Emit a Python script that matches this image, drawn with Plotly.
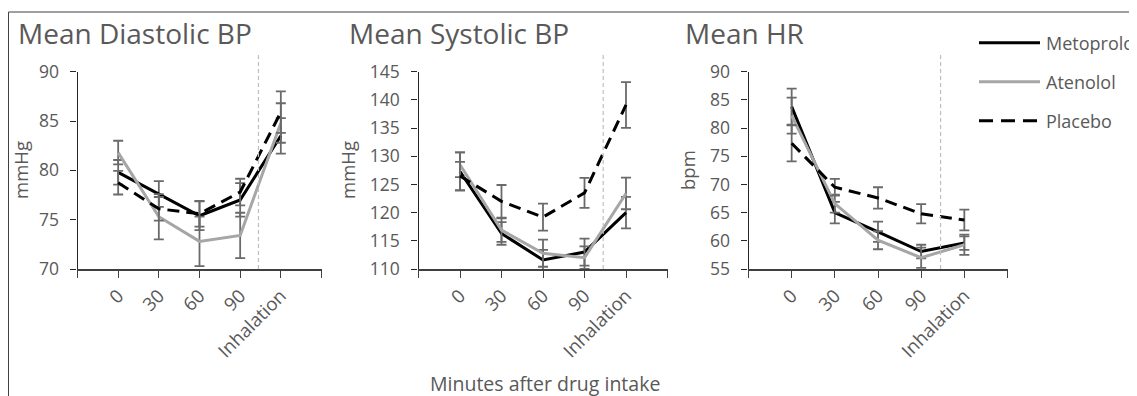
import plotly.graph_objects as go

# The page body adds an 8px margin; the figure is sized so that it fills the 1137x396 window.
PAGE_W, PAGE_H, BODY = 1137, 396, 8
W, H = PAGE_W - BODY, PAGE_H - BODY

categories = ["0", "30", "60", "90", "Inhalation"]
series_names = ["Metoprolol", "Atenolol", "Placebo"]

# Mean Diastolic BP (mmHg)
dia_met = [79.8, 77.6, 75.4, 77.0, 83.5]
dia_met_err = [1.25, 1.3, 1.45, 1.7, 1.8]
dia_ate = [81.8, 75.3, 72.8, 73.4, 84.8]
dia_ate_err = [1.2, 2.3, 2.5, 2.3, 2.0]
dia_pla = [78.75, 76.1, 75.6, 77.8, 85.9]
dia_pla_err = [1.2, 1.2, 1.3, 1.35, 2.1]

# Mean Systolic BP (mmHg)
sys_met = [127.3, 116.3, 111.6, 113.0, 120.0]
sys_met_err = [3.4, 2.0, 1.8, 2.4, 2.8]
sys_ate = [128.5, 116.9, 112.8, 112.0, 123.4]
sys_ate_err = [2.2, 2.1, 2.4, 2.0, 2.8]
sys_pla = [126.5, 122.0, 119.2, 123.5, 139.1]
sys_pla_err = [2.5, 2.9, 2.4, 2.65, 4.05]

# Mean HR (bpm)
hr_met = [83.8, 65.0, 61.6, 58.1, 59.6]
hr_met_err = [3.2, 1.9, 1.8, 1.2, 1.2]
hr_ate = [82.2, 66.6, 60.1, 57.0, 59.3]
hr_ate_err = [3.2, 1.6, 1.6, 1.8, 1.8]
hr_pla = [77.3, 69.5, 67.6, 64.8, 63.7]
hr_pla_err = [3.2, 1.5, 1.9, 1.7, 1.85]

panel_titles = ["Mean Diastolic BP", "Mean Systolic BP", "Mean HR"]
y_titles = ["mmHg", "mmHg", "bpm"]
y_ranges = [(70, 90), (110, 145), (55, 90)]
x_axis_title = "Minutes after drug intake"

panels = [
    [(dia_met, dia_met_err), (dia_ate, dia_ate_err), (dia_pla, dia_pla_err)],
    [(sys_met, sys_met_err), (sys_ate, sys_ate_err), (sys_pla, sys_pla_err)],
    [(hr_met, hr_met_err), (hr_ate, hr_ate_err), (hr_pla, hr_pla_err)],
]

# styles
line_colors = ["#000000", "#A6A6A6", "#000000"]
line_dashes = ["solid", "solid", "12px,7px"]
err_color = "#6A6A6A"
text_color = "#595959"
FONT = "Open Sans"

# layout in window pixels
x_px = [(77.5, 321.5), (418.5, 667.5), (748.5, 1007.5)]
y_top_px, y_bot_px = 71.7, 269.0
title_x_px = [16, 347, 683]
ytitle_x_px = [20, 347, 687]


def fx(px):
    return (px - BODY) / W


def fy(py):
    return 1 - (py - BODY) / H


xpos = list(range(len(categories)))

fig = go.Figure()
for p, data in enumerate(panels):
    xa = "x" if p == 0 else f"x{p+1}"
    ya = "y" if p == 0 else f"y{p+1}"
    for s, (vals, errs) in enumerate(data):
        fig.add_trace(go.Scatter(
            x=xpos, y=vals, mode="lines", name=series_names[s],
            line=dict(color=line_colors[s], width=3, dash=line_dashes[s]),
            error_y=dict(type="data", array=errs, visible=True,
                         color=err_color, thickness=1.8, width=5),
            xaxis=xa, yaxis=ya, showlegend=False,
        ))

layout = dict(
    width=W, height=H,
    margin=dict(l=0, r=0, t=0, b=0, pad=0, autoexpand=False),
    paper_bgcolor="white", plot_bgcolor="white",
    font=dict(family=FONT, color=text_color, size=17),
    showlegend=False,
)

shapes = []
annotations = []
for p in range(3):
    xk = "xaxis" if p == 0 else f"xaxis{p+1}"
    yk = "yaxis" if p == 0 else f"yaxis{p+1}"
    xa = "x" if p == 0 else f"x{p+1}"
    ya = "y" if p == 0 else f"y{p+1}"
    lo, hi = y_ranges[p]
    layout[xk] = dict(
        domain=[fx(x_px[p][0]), fx(x_px[p][1])], anchor=ya,
        range=[-1, 5], tickvals=[-1, 0, 1, 2, 3, 4, 5],
        ticktext=[""] + categories + [""],
        tickangle=-45, ticks="outside", ticklen=7, tickcolor="#404040",
        showline=True, linecolor="#404040", linewidth=1.5,
        showgrid=False, zeroline=False, fixedrange=True, automargin=False,
        tickfont=dict(family=FONT, size=18.5, color=text_color),
    )
    layout[yk] = dict(
        domain=[fy(y_bot_px), fy(y_top_px)], anchor=xa,
        range=[lo, hi], dtick=5, tick0=lo,
        ticks="outside", ticklen=6, tickcolor="#262626",
        showline=True, linecolor="#262626", linewidth=1.2,
        showgrid=False, zeroline=False, fixedrange=True, automargin=False,
        ticklabelstandoff=8,
        tickfont=dict(family=FONT, size=17.5, color=text_color),
    )
    # vertical dashed separator before "Inhalation"
    shapes.append(dict(type="line", xref=xa, yref="paper",
                       x0=3.45, x1=3.45, y0=fy(y_bot_px), y1=fy(53),
                       line=dict(color="#BFBFBF", width=1.2, dash="4px,3px")))
    annotations.append(dict(text=panel_titles[p], xref="paper", yref="paper",
                            x=fx(title_x_px[p]), y=fy(33), xanchor="left", yanchor="middle",
                            showarrow=False, font=dict(family=FONT, size=28, color=text_color)))
    annotations.append(dict(text=y_titles[p], xref="paper", yref="paper",
                            x=fx(ytitle_x_px[p]), y=fy(170), xanchor="center", yanchor="middle",
                            textangle=-90, showarrow=False, borderpad=0,
                            font=dict(family=FONT, size=18.5, color=text_color)))

annotations.append(dict(text=x_axis_title, xref="paper", yref="paper",
                        x=fx(545), y=fy(383), xanchor="center", yanchor="middle",
                        showarrow=False, font=dict(family=FONT, size=19.5, color=text_color)))

# legend (manual)
leg_y = [42.7, 81.7, 120.7]
for s in range(3):
    shapes.append(dict(type="line", xref="paper", yref="paper",
                       x0=fx(979), x1=fx(1040), y0=fy(leg_y[s]), y1=fy(leg_y[s]),
                       line=dict(color=line_colors[s], width=3,
                                 dash="14px,8px" if s == 2 else "solid")))
    annotations.append(dict(text=series_names[s], xref="paper", yref="paper",
                            x=fx(1044), y=fy(leg_y[s]), xanchor="left", yanchor="middle",
                            showarrow=False, font=dict(family=FONT, size=18, color=text_color)))

# outer frame (top and left edges)
shapes.append(dict(type="line", xref="paper", yref="paper", x0=fx(8.5), x1=1.0,
                   y0=fy(12), y1=fy(12), line=dict(color="#404040", width=1)))
shapes.append(dict(type="line", xref="paper", yref="paper", x0=fx(8.5), x1=fx(8.5),
                   y0=fy(12), y1=0, line=dict(color="#404040", width=1)))

layout["shapes"] = shapes
layout["annotations"] = annotations
fig.update_layout(**layout)
fig.write_html("out.html")
